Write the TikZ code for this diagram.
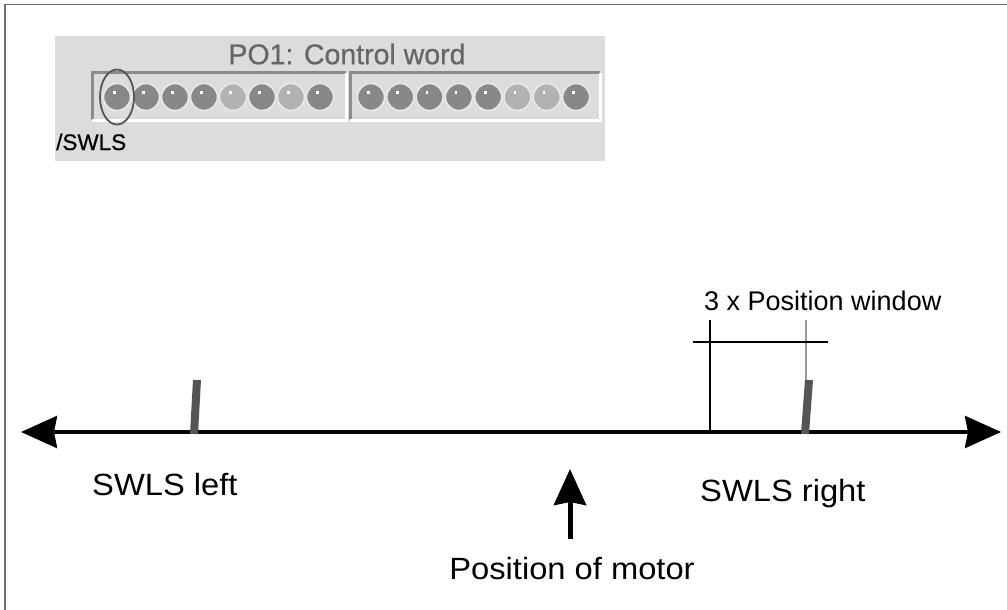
\documentclass[tikz,border=0pt]{standalone}
\usepackage{fontspec}
\setmainfont{Liberation Sans}
\newfontfamily\labelfamily[FakeStretch=1.065]{Liberation Sans}
\newfontfamily\panelfamily[FakeBold=0.6]{Liberation Sans}
\usetikzlibrary{arrows.meta,calc}

\definecolor{panelgray}{HTML}{DCDCDC}
\definecolor{titlegray}{HTML}{666666}
\definecolor{sunkdark}{HTML}{8C8C8C}
\definecolor{ledon}{HTML}{888888}
\definecolor{ledoff}{HTML}{B2B2B2}
\definecolor{ledrim}{HTML}{EAEAEA}
\definecolor{markgray}{HTML}{555555}
\definecolor{framegray}{HTML}{707070}

\tikzset{
  label/.style={font=\labelfamily\fontsize{30.7}{30.7}\selectfont, inner sep=0pt},
  axisline/.style={line width=4pt, black},
  marker/.style={line width=8pt, markgray},
  thinline/.style={line width=1.2pt, black},
  led/.style={circle, minimum size=27pt, inner sep=0pt, draw=ledrim, line width=1.5pt},
}

\begin{document}
\begin{tikzpicture}[x=1pt, y=-1pt]
\useasboundingbox (0,0) rectangle (1007,610);

% outer frame (top and left edges)
\draw[framegray, line width=1.5pt] (5,610) -- (5,4.5) -- (1007,4.5);

% control word panel
\fill[panelgray] (55,36) rectangle (605,161);
\node[font=\panelfamily\fontsize{28.5}{28.5}\selectfont, text=titlegray, inner sep=0pt] (title) at (347,54) {PO1: Control word};

% two sunken LED groups
\draw[sunkdark, line width=3pt] (92,120) -- (92,73) -- (346,73);
\draw[white, line width=3pt] (92,120) -- (346,120) -- (346,73);
\draw[sunkdark, line width=3pt] (350,120) -- (350,73) -- (600,73);
\draw[white, line width=3pt] (350,120) -- (600,120) -- (600,73);

% LEDs, low byte
\foreach \i/\c in {1/ledon,2/ledon,3/ledon,4/ledon,5/ledoff,6/ledon,7/ledoff,8/ledon} {
  \node[led, fill=\c] (led\i) at ({117+29*(\i-1)},97) {};
  \fill[white] ($(led\i.center)+(-4,-6)$) rectangle ++(2.5,2.5);
}
% LEDs, high byte
\foreach \i/\c in {9/ledon,10/ledon,11/ledon,12/ledon,13/ledon,14/ledoff,15/ledoff,16/ledon} {
  \node[led, fill=\c] (led\i) at ({371+29.3*(\i-9)},97) {};
  \fill[white] ($(led\i.center)+(-4,-6)$) rectangle ++(2.5,2.5);
}

% highlighted bit
\draw[markgray, line width=1.8pt] (led1.center) ellipse [x radius=17, y radius=27.5];
\node[font=\panelfamily\fontsize{22.5}{22.5}\selectfont, anchor=base west, inner sep=0pt] (swls) at (56,150) {/SWLS};

% position axis
\coordinate (axL) at (21,432);
\coordinate (axR) at (1001,432);
\draw[axisline, {Stealth[length=36pt, width=32pt, inset=3pt]}-{Stealth[length=36pt, width=32pt, inset=3pt]}] (axL) -- (axR);

% software limit switches
\draw[marker] (197,380) -- (194,434);
\draw[line width=2pt, black!40] (806,320) -- (806,381);
\draw[marker] (809,380) -- (805,434);

% position window
\draw[thinline] (710,320) -- (710,432);
\draw[thinline] (693,342) -- (828,342);
\node[font=\fontsize{27}{27}\selectfont, anchor=base west, inner sep=0pt] (win) at (704,310) {3 x Position window};

% labels
\node[label, anchor=base west] (left) at (92,495) {SWLS left};
\node[label, anchor=base west] (right) at (700,501) {SWLS right};

% motor position
\coordinate (mbase) at (570,539);
\coordinate (mtip) at (570,469);
\draw[line width=5pt, -{Stealth[length=36pt, width=32pt, inset=3pt]}] (mbase) -- (mtip);
\node[label, anchor=base] (motor) at (572,579) {Position of motor};
\end{tikzpicture}
\end{document}
